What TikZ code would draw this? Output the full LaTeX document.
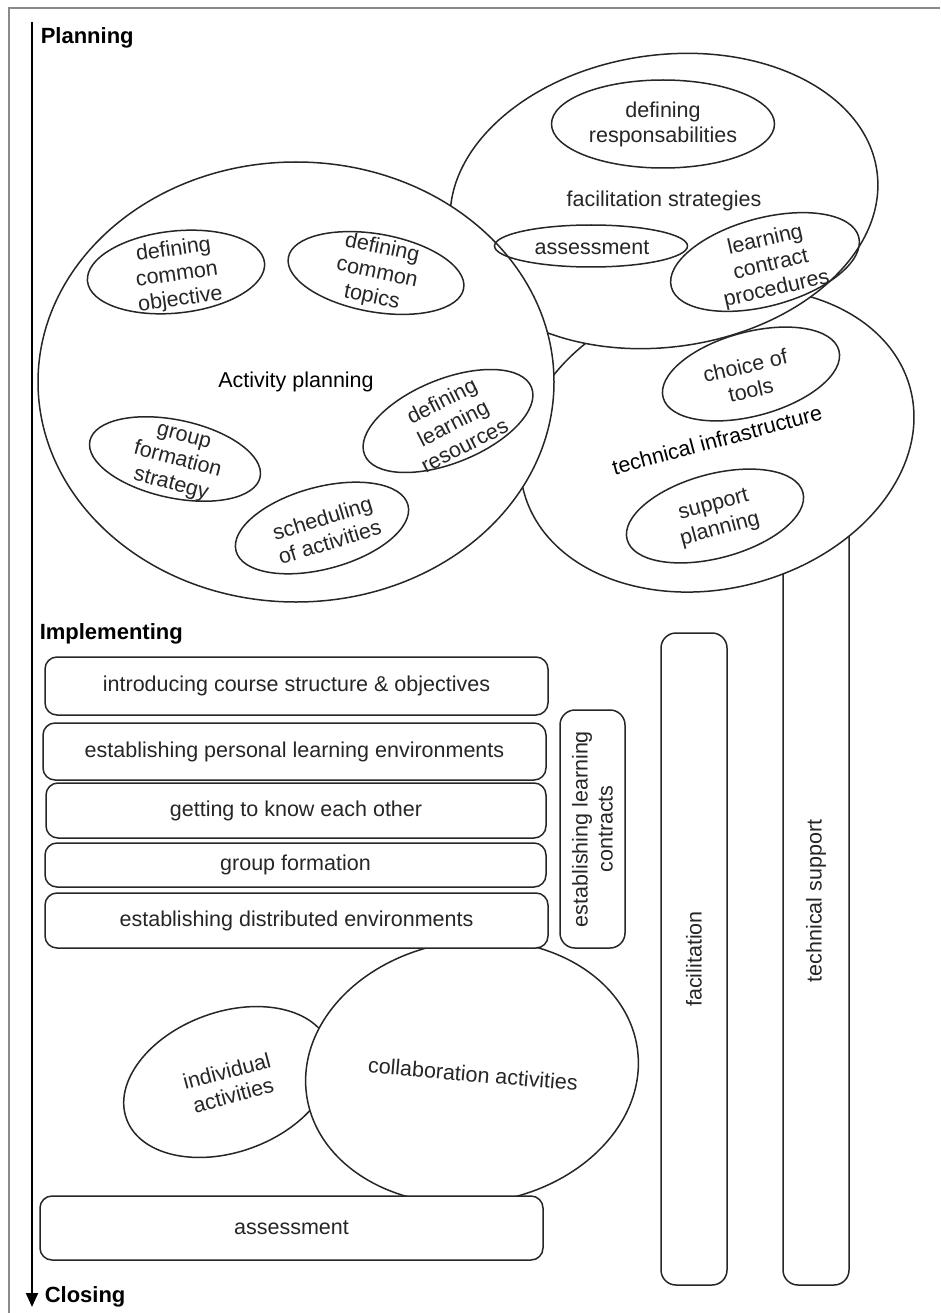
\documentclass[tikz,border=0pt]{standalone}
\usepackage{fontspec}
\setmainfont{Liberation Sans}
\usepackage{tikz}
\usetikzlibrary{arrows.meta,shapes.geometric,positioning}
\usepackage{xcolor}
\definecolor{linec}{HTML}{262626}
\definecolor{framec}{HTML}{8A8A8A}
\newcommand\lbl{\fontsize{21.5}{25}\selectfont}

\begin{document}
\begin{tikzpicture}[
  x=1pt, y=-1pt, font=\lbl, line width=1.5pt,
  bigell/.style={draw=linec, ellipse, fill=white, inner sep=0pt},
  smallell/.style={draw=linec, ellipse, inner sep=0pt, minimum width=178pt, minimum height=82pt},
  txt/.style={align=center, inner sep=0pt, text=black!85},
  phase/.style={font=\fontsize{22}{25}\selectfont\bfseries, anchor=west, inner sep=0pt},
  hbox/.style={draw=linec, rounded corners=12pt, fill=white, minimum width=503pt, inner sep=0pt, text=black!85},
  vbox/.style={draw=linec, rounded corners=15pt, fill=white, rotate=90, minimum height=66pt, inner sep=0pt, align=center, text=black!85},
]
\useasboundingbox (0,0) rectangle (940,1313);
% frame and time axis
\draw[framec, line width=1.5pt] (9,1313) -- (9,8) -- (940,8);
\coordinate (tstart) at (32,22);
\coordinate (tend) at (32,1307);
\draw[line width=2pt, -{Triangle[length=14pt,width=12pt]}] (tstart) -- (tend);
\node[phase] (plan) at (40,38) {Planning};
\node[phase] (impl) at (39,634) {Implementing};
\node[phase] (clos) at (44,1297) {Closing};

% technical support column (behind the infrastructure ellipse)
\node[vbox, minimum width=768pt] (tsup) at (816,901) {technical support};

% planning ellipses
\node[bigell, minimum width=400pt, minimum height=296pt, rotate=15] (techi) at (717,440) {technical infrastructure};
\node[bigell, minimum width=430pt, minimum height=292pt, rotate=8] (facs) at (664,201) {};
\node[txt] (facs-t) at (facs) {facilitation strategies};
\node[bigell, minimum width=516pt, minimum height=440pt] (actp) at (296,382) {Activity planning};

% inside activity planning
\node[smallell, rotate=6] (dco) at (176,272) {};
\node[txt, rotate=8] (dco-t) at (177,275) {defining\\common\\objective};
\node[smallell, minimum height=78pt, rotate=-10] (dct) at (376,273) {};
\node[txt, rotate=-12] (dct-t) at (377,273) {defining\\common\\topics};
\node[smallell, minimum width=174pt, minimum height=78pt, rotate=-12] (gfs) at (175,459) {};
\node[txt, rotate=-15] (gfs-t) at (177,462) {group\\formation\\strategy};
\node[smallell, minimum width=180pt, minimum height=84pt, rotate=22] (dlr) at (448,421) {};
\node[txt, rotate=27] (dlr-t) at (453,423) {defining\\learning\\resources};
\node[smallell, rotate=15] (soa) at (322,528) {};
\node[txt, rotate=17] (soa-t) at (326,530) {scheduling\\of activities};

% inside facilitation strategies
\node[smallell, minimum width=223pt, minimum height=88pt] (dresp) at (663,124) {};
\node[txt] (dresp-t) at (dresp) {defining\\responsabilities};
\node[smallell, minimum width=193pt, minimum height=42pt] (fass) at (591,246) {};
\node[txt] (fass-t) at (592,248) {assessment};
\node[smallell, minimum width=194pt, minimum height=88pt, rotate=15] (lcp) at (765,262) {};
\node[txt, rotate=13] (lcp-t) at (771,265) {learning\\contract\\procedures};

% inside technical infrastructure
\node[smallell, minimum width=182pt, minimum height=84pt, rotate=15] (cot) at (751,374) {};
\node[txt, rotate=13] (cot-t) at (748,378) {choice of\\tools};
\node[smallell, minimum width=182pt, minimum height=84pt, rotate=15] (sup) at (715,516) {};
\node[txt, rotate=15] (sup-t) at (717,518) {support\\planning};

% implementing
\node[vbox, minimum width=652pt] (facil) at (694,959) {facilitation};
\node[vbox, minimum width=238pt, minimum height=65pt] (lcon) at (592.5,829) {establishing learning\\contracts};
\node[bigell, minimum width=216pt, minimum height=140pt, rotate=20] (indiv) at (228,1082) {};
\node[txt, rotate=15] (indiv-t) at (230,1083) {individual\\activities};
\node[bigell, minimum width=334pt, minimum height=262pt, rotate=8] (colab) at (472,1072) {};
\node[txt, rotate=-5] (colab-t) at (473,1074) {collaboration activities};
\node[hbox, minimum height=58pt] (intro) at (296.5,686) {introducing course structure \& objectives};
\node[hbox, minimum height=57pt] (ple) at (294.5,751.5) {establishing personal learning environments};
\node[hbox, minimum width=500pt, minimum height=55pt] (know) at (296,810.5) {getting to know each other};
\node[hbox, minimum width=501pt, minimum height=44pt] (grpf) at (295.5,865) {group formation};
\node[hbox, minimum height=55pt] (dist) at (296.5,920.5) {establishing distributed environments};
\node[hbox, minimum height=64pt] (assess) at (291.5,1228) {assessment};
\end{tikzpicture}
\end{document}
